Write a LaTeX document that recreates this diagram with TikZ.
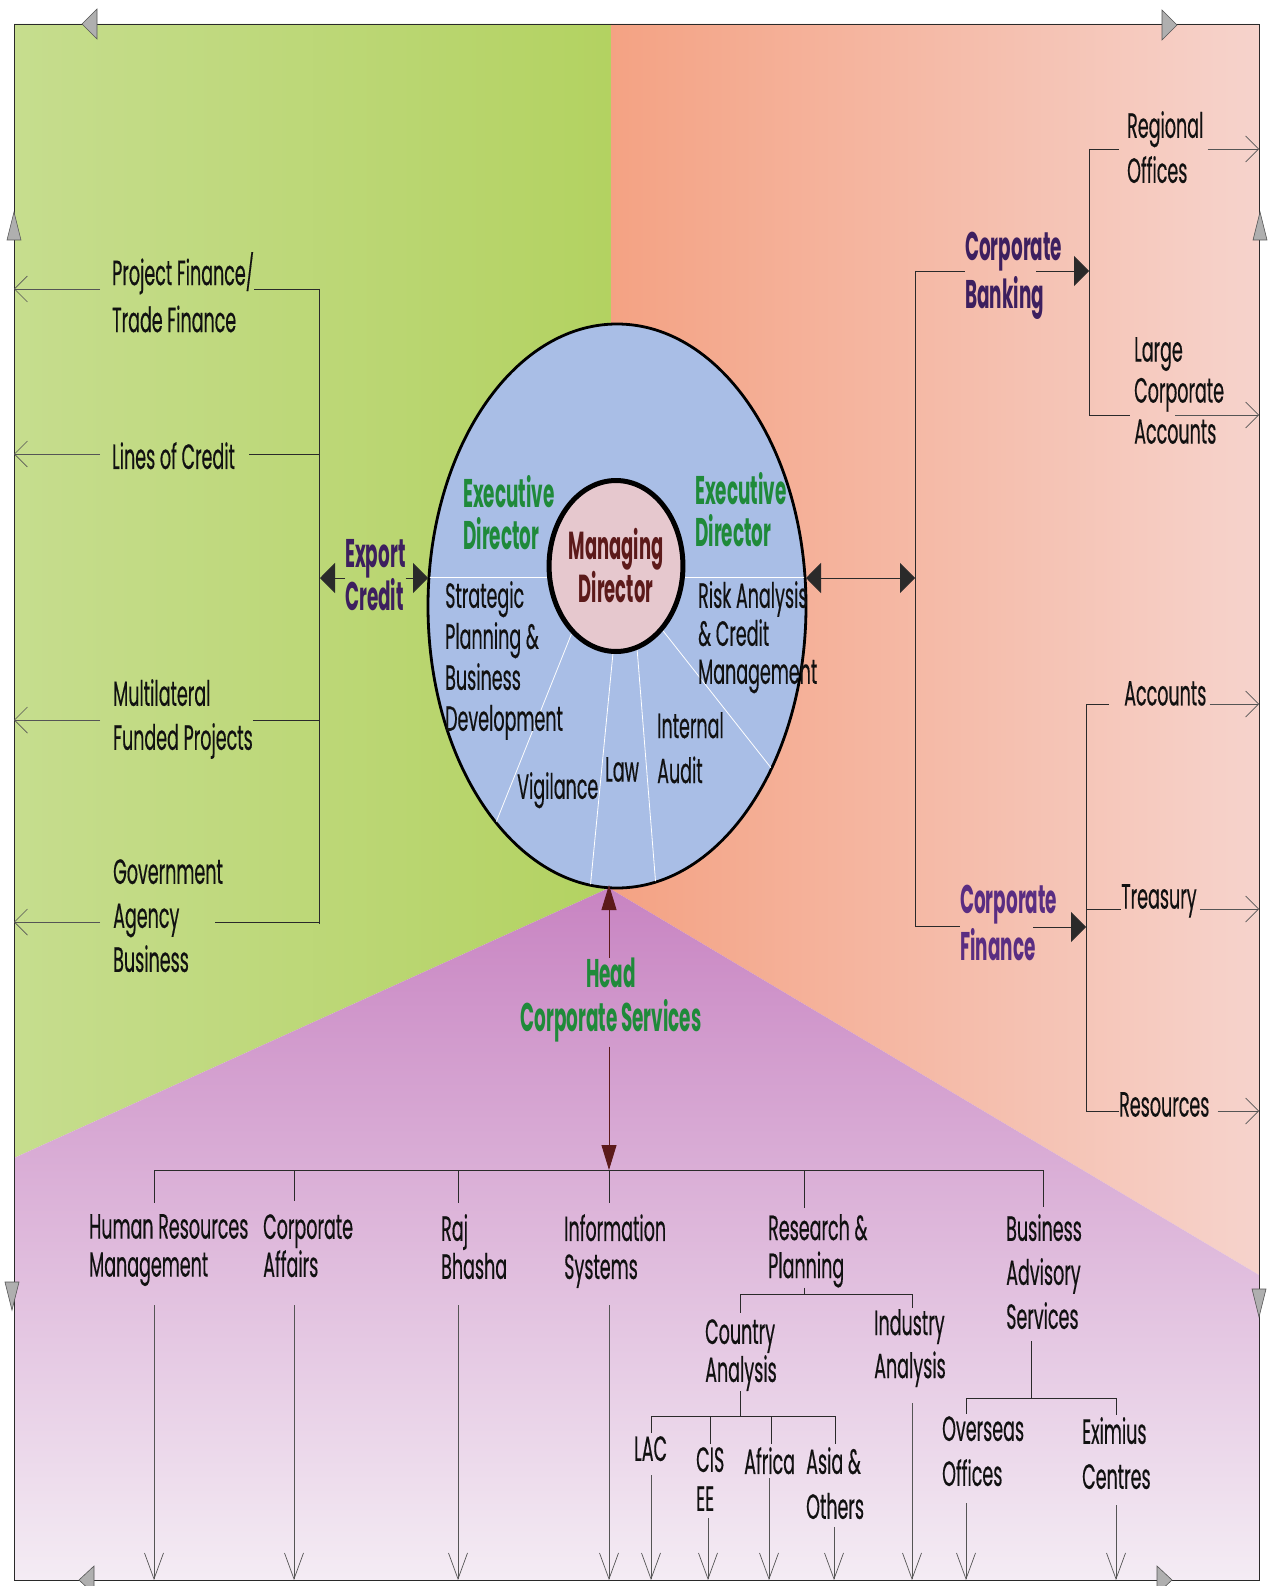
\documentclass[tikz,border=0pt]{standalone}
\usepackage{fontspec}
\newfontfamily\lblfam{Poppins}[FakeStretch=0.5, FakeBold=0.35]
\newfontfamily\hdrfam{Poppins}[FakeStretch=0.46]
\usetikzlibrary{arrows.meta,shapes.geometric,calc}
\definecolor{grnA}{HTML}{C6DD8E}
\definecolor{grnB}{HTML}{B3D261}
\definecolor{orgA}{HTML}{F4A283}
\definecolor{orgB}{HTML}{F6D3CC}
\definecolor{purA}{HTML}{C884C2}
\definecolor{purB}{HTML}{D9A8D5}
\definecolor{purC}{HTML}{F4ECF4}
\definecolor{elblue}{HTML}{A9BEE6}
\definecolor{mdpink}{HTML}{E6C8CE}
\definecolor{hgreen}{HTML}{1F8A3A}
\definecolor{hpurple}{HTML}{3D1F5F}
\definecolor{hviolet}{HTML}{5A2D82}
\definecolor{hmaroon}{HTML}{5C1A1A}
\definecolor{txt}{HTML}{111111}
\definecolor{lnc}{HTML}{2A2A2A}
\definecolor{arc}{HTML}{555555}
\definecolor{frtri}{HTML}{AFAFAF}
\begin{document}
\begin{tikzpicture}[x=1pt,y=-1pt,
  lbl/.style={font={\lblfam\fontsize{35}{#1}\selectfont}, inner sep=0pt, align=left, anchor=north west, text=txt},
  lbl/.default=43,
  hdr/.style={font={\hdrfam\bfseries\fontsize{40}{#1}\selectfont}, inner sep=0pt, align=left, anchor=north west},
  hdr/.default=44,
  ln/.style={draw=lnc, line width=0.9pt},
  arr/.style={draw=arc, line width=0.7pt},
  trih/.tip={Triangle[length=15pt,width=30pt]},
  triv/.tip={Triangle[length=25pt,width=15pt]},
  barbh/.tip={Straight Barb[length=13pt,width=26pt]},
  barbv/.tip={Straight Barb[length=26pt,width=19pt]},
  ftri/.style={fill=frtri, draw=arc, line width=0.6pt},
]
\useasboundingbox (0,0) rectangle (1267,1586);
\fill[white] (0,0) rectangle (1267,1586);
% frame reference coordinates
\coordinate (fL) at (14,0);
\coordinate (fR) at (1259,0);
\coordinate (fB) at (0,1580);
% sectors
\shade[left color=grnA, right color=grnB] (14,24) -- (611,24) -- (611,606) -- (609,888) -- (14,1158) -- cycle;
\shade[left color=orgA, right color=orgB] (611,24) -- (1259,24) -- (1259,1275) -- (609,888) -- (611,606) -- cycle;
\shade[top color=purA, middle color=purB, bottom color=purC] (14,1158) -- (609,888) -- (1259,1275) -- (1259,1580) -- (14,1580) -- cycle;
% frame
\draw[ln] (14,24) rectangle (1259,1580);
\draw[ftri] (82,24) -- (97,9) -- (97,39) -- cycle;
\draw[ftri] (1177,25) -- (1162,10) -- (1162,40) -- cycle;
\draw[ftri] (14,212) -- (7,240) -- (21,240) -- cycle;
\draw[ftri] (12,1310) -- (5,1282) -- (19,1282) -- cycle;
\draw[ftri] (1260,212) -- (1253,240) -- (1267,240) -- cycle;
\draw[ftri] (1259,1317) -- (1252,1289) -- (1266,1289) -- cycle;
\draw[ftri] (79,1580) -- (94,1566) -- (94,1594) -- cycle;
\draw[ftri] (1172,1580) -- (1157,1566) -- (1157,1594) -- cycle;

% central ellipse
\node[ellipse, draw=black, line width=2.8pt, fill=elblue, minimum width=378pt, minimum height=564pt, inner sep=0pt] (outer) at (617,606) {};
\begin{scope}
\clip (617,606) ellipse [x radius=188pt, y radius=281pt];
\draw[white, line width=0.9pt] (420,577) -- (820,577);
\draw[white, line width=0.8pt] (573,630) -- (465,900);
\draw[white, line width=0.8pt] (613,653) -- (589,900);
\draw[white, line width=0.8pt] (637,648) -- (657,900);
\draw[white, line width=0.8pt] (660,627) -- (820,830);
\end{scope}
\node[ellipse, draw=black, line width=5pt, fill=mdpink, minimum width=113pt, minimum height=171pt, inner sep=0pt,
      font={\hdrfam\bfseries\fontsize{39}{43}\selectfont}, text=hmaroon, align=center] (md) at (616,566) {Managing\\Director};

\node[hdr=42, text=hgreen] (edl) at (463,475) {Executive\\Director};
\node[hdr=42, text=hgreen] (edr) at (695,472) {Executive\\Director};
\node[lbl=41] (spbd) at (445,581) {Strategic\\Planning \&\\Business\\Development};
\node[lbl=38] (racm) at (698,581) {Risk Analysis\\\& Credit\\Management};
\node[lbl] (vig) at (517,772) {Vigilance};
\node[lbl] (law) at (605,757) {Law};
\node[lbl=45] (iaud) at (657,712) {Internal\\Audit};

% left: export credit
\node[hdr=41, text=hpurple] (exc) at (345,539) {Export\\Credit};
\coordinate (vL1) at (319,289);
\coordinate (vL2) at (319,924);
\coordinate (xA) at (100,0);
\coordinate (eLt) at (320,578);
\coordinate (eRt) at (428,578);
\draw[ln, -trih] (exc.west |- eLt) -- (eLt);
\draw[ln, -trih] (exc.east |- eRt) -- (eRt);
\draw[ln] (vL1) -- (vL2);

\node[lbl=47] (pf) at (112,252) {Project Finance/\\Trade Finance};
\node[lbl] (loc) at (112,442) {Lines of Credit};
\node[lbl=44] (mfp) at (113,679) {Multilateral\\Funded Projects};
\node[lbl=44] (gab) at (113,859) {Government\\Agency\\Business};
\coordinate (jPF) at (319,289);
\coordinate (jLC) at (319,454);
\coordinate (jMF) at (319,720);
\coordinate (jGA) at (319,922);
\draw[ln] (pf.east |- jPF) -- (jPF);
\draw[ln] ([xshift=14pt]loc.east |- jLC) -- (jLC);
\draw[ln] (mfp.east |- jMF) -- (jMF);
\draw[ln] ([xshift=-8pt]gab.east |- jGA) -- (jGA);
\draw[arr, -barbh] (xA |- jPF) -- (fL |- jPF);
\draw[arr, -barbh] (xA |- jLC) -- (fL |- jLC);
\draw[arr, -barbh] (xA |- jMF) -- (fL |- jMF);
\draw[arr, -barbh] (xA |- jGA) -- (fL |- jGA);

% right: corporate banking / finance
\coordinate (rA) at (806,578);
\coordinate (rB) at (915,578);
\draw[ln, trih-trih] (rA) -- (rB);
\coordinate (vR1) at (915,271);
\coordinate (vR2) at (915,926);
\draw[ln] (vR1) -- (vR2);
\node[hdr=48, text=hpurple] (cb) at (965,232) {Corporate\\Banking};
\node[hdr=47, text=hviolet] (cf) at (960,885) {Corporate\\Finance};
\draw[ln] (vR1) -- (cb.west |- vR1);
\draw[ln] (vR2) -- (cf.west |- vR2);
\coordinate (cbT) at (1089,271);
\coordinate (cfT) at (1086,927);
\draw[ln, -trih] ([xshift=-26pt]cb.east |- cbT) -- (cbT);
\draw[ln, -trih] ([xshift=-24pt]cf.east |- cfT) -- (cfT);

\coordinate (jRO) at (1089,149);
\coordinate (jLA) at (1089,415);
\draw[ln] (jRO) -- (jLA);
\node[lbl=45] (ro) at (1127,111) {Regional\\Offices};
\node[lbl=41] (lca) at (1134,337) {Large\\Corporate\\Accounts};
\draw[ln] (jRO) -- ([xshift=-8pt]ro.west |- jRO);
\draw[arr, -barbh] ([xshift=4pt]ro.east |- jRO) -- (fR |- jRO);
\draw[ln] (jLA) -- ([xshift=-4pt]lca.west |- jLA);
\coordinate (lcaS) at (1175,415);
\draw[arr, -barbh] (lcaS) -- (fR |- lcaS);

\coordinate (jAC) at (1086,704);
\coordinate (jTR) at (1086,909);
\coordinate (jRS) at (1086,1111);
\draw[ln] (jAC) -- (jRS);
\node[lbl] (acc) at (1124,681) {Accounts};
\node[lbl] (tre) at (1121,884) {Treasury};
\node[lbl] (res) at (1119,1092) {Resources};
\draw[ln] (jAC) -- ([xshift=-15pt]acc.west |- jAC);
\draw[ln] (jTR) -- (tre.west |- jTR);
\draw[ln] (jRS) -- (res.west |- jRS);
\draw[arr, -barbh] ([xshift=3pt]acc.east |- jAC) -- (fR |- jAC);
\draw[arr, -barbh] ([xshift=3pt]tre.east |- jTR) -- (fR |- jTR);
\draw[arr, -barbh] ([xshift=8pt]res.east |- jRS) -- (fR |- jRS);

% bottom: head corporate services
\node[hdr, align=center, anchor=north, text=hgreen] (hcs) at (611,958) {Head\\Corporate Services};
\coordinate (eBot) at (609,885);
\coordinate (bI) at (609,1170);
\draw[ln, draw=hmaroon, triv-] (eBot) -- (eBot |- hcs.north);
\draw[ln, draw=hmaroon, -triv] ([yshift=-4pt]bI |- hcs.south) -- (bI);
\coordinate (bL) at (154,1170);
\coordinate (bR) at (1043,1170);
\draw[ln] (bL) -- (bR);

\node[lbl=38] (hrm) at (89,1214) {Human Resources\\Management};
\node[lbl=38] (caf) at (263,1214) {Corporate\\Affairs};
\node[lbl=38] (raj) at (441,1214) {Raj\\Bhasha};
\node[lbl=38] (inf) at (564,1214) {Information\\Systems};
\node[lbl=38] (rnp) at (768,1214) {Research \&\\Planning};
\node[lbl=44] (bas) at (1006,1214) {Business\\Advisory\\Services};
\coordinate (dCA) at (294,1170);
\coordinate (dRJ) at (458,1170);
\coordinate (dRP) at (804,1170);
\draw[ln] (bL) -- ($(bL |- hrm.north)+(0,-11)$);
\draw[ln] (dCA) -- ($(dCA |- caf.north)+(0,-13)$);
\draw[ln] (dRJ) -- ($(dRJ |- raj.north)+(0,-11)$);
\draw[ln] (bI) -- ($(bI |- inf.north)+(0,-11)$);
\draw[ln] (dRP) -- ($(dRP |- rnp.north)+(0,-6)$);
\draw[ln] (bR) -- ($(bR |- bas.north)+(0,-7)$);

% research & planning subtree
\node[lbl=38] (can) at (705,1319) {Country\\Analysis};
\node[lbl=43] (ian) at (874,1309) {Industry\\Analysis};
\coordinate (jRP) at (804,1294);
\coordinate (jCA) at (740,1294);
\coordinate (jIA) at (912,1294);
\draw[ln] (rnp.south -| jRP) -- (jRP);
\draw[ln] (jCA) -- (jIA);
\draw[ln] (jCA) -- ($(jCA |- can.north)+(0,-6)$);
\draw[ln] (jIA) -- ($(jIA |- ian.north)+(0,-1)$);
\node[lbl] (lac) at (634,1436) {LAC};
\node[lbl=39] (cis) at (696,1447) {CIS\\EE};
\node[lbl] (afr) at (744,1447) {Africa};
\node[lbl=45] (asia) at (806,1447) {Asia \&\\Others};
\coordinate (jC0) at (740,1416);
\coordinate (jC1) at (651,1416);
\coordinate (jC2) at (710,1416);
\coordinate (jC3) at (771,1416);
\coordinate (jC4) at (835,1416);
\draw[ln] (can.south -| jC0) -- (jC0);
\draw[ln] (jC1) -- (jC4);
\draw[ln] (jC1) -- ($(jC1 |- lac.north)+(0,-3)$);
\draw[ln] (jC2) -- ($(jC2 |- cis.north)+(0,-3)$);
\draw[ln] (jC3) -- ($(jC3 |- afr.north)+(0,-3)$);
\draw[ln] (jC4) -- ($(jC4 |- asia.north)+(0,-3)$);

% business advisory subtree
\node[lbl=45] (oof) at (942,1416) {Overseas\\Offices};
\node[lbl=45] (exi) at (1082,1417) {Eximius\\Centres};
\coordinate (jB0) at (1031,1398);
\coordinate (jB1) at (966,1398);
\coordinate (jB2) at (1116,1398);
\draw[ln] ($(jB0 |- bas.south)+(0,12)$) -- (jB0);
\draw[ln] (jB1) -- (jB2);
\draw[ln] (jB1) -- ($(jB1 |- oof.north)+(0,-2)$);
\draw[ln] (jB2) -- ($(jB2 |- exi.north)+(0,-2)$);

% down arrows to the frame
\coordinate (sHR) at (154,1305);
\coordinate (sCA) at (294,1305);
\coordinate (sRJ) at (458,1305);
\coordinate (sIS) at (609,1305);
\coordinate (sLA) at (651,1475);
\coordinate (sCI) at (708,1518);
\coordinate (sAF) at (769,1478);
\coordinate (sAS) at (834,1527);
\coordinate (sIA) at (912,1403);
\coordinate (sOO) at (966,1503);
\coordinate (sEX) at (1116,1505);
\foreach \s in {sHR,sCA,sRJ,sIS,sLA,sCI,sAF,sAS,sIA,sOO,sEX}
  \draw[arr, -barbv] (\s) -- (\s |- fB);
\end{tikzpicture}
\end{document}
